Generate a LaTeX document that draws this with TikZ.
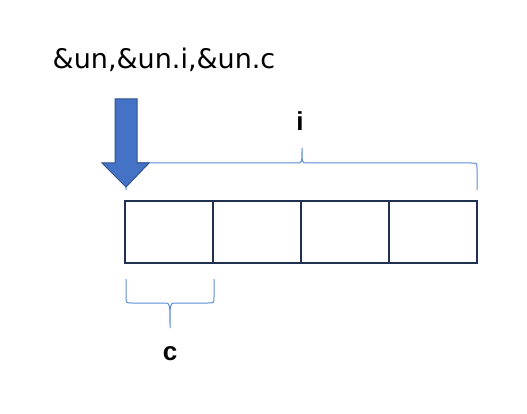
\documentclass[tikz,border=0pt]{standalone}
\usepackage{fontspec}
\setmainfont{Liberation Sans}
\newfontfamily\labelfont{DejaVu Sans}
\usepackage{xcolor}
\definecolor{cellLine}{HTML}{1F3050}
\definecolor{arrowFill}{HTML}{4472C4}
\definecolor{arrowLine}{HTML}{2F528F}
\definecolor{braceLine}{HTML}{5B8BD9}

\begin{document}
\begin{tikzpicture}[x=1pt, y=-1pt]
  \filldraw[fill=white, draw=none] (0,0) rectangle (527,414);
  \useasboundingbox (0,0) rectangle (527,414);
  \node[font=\labelfont\fontsize{27}{32}\selectfont] (addr) at (164,60) {\&un,\&un.i,\&un.c};
  \node[draw=cellLine, line width=2.5pt, minimum width=88pt, minimum height=62pt] (c1) at (169,232) {};
  \node[draw=cellLine, line width=2.5pt, minimum width=88pt, minimum height=62pt] (c2) at (257,232) {};
  \node[draw=cellLine, line width=2.5pt, minimum width=88pt, minimum height=62pt] (c3) at (345,232) {};
  \node[draw=cellLine, line width=2.5pt, minimum width=88pt, minimum height=62pt] (c4) at (433,232) {};
  \draw[braceLine, line width=1pt] (126,190) -- (126,169) .. controls (126,163) .. (132,163) -- (297,163)
    .. controls (302,163) .. (302,148) .. controls (302,163) .. (307,163) -- (471,163)
    .. controls (477,163) .. (477,169) -- (477,190);
  \draw[braceLine, line width=1pt] (126,279) -- (126,297) .. controls (126,303) .. (132,303) -- (165,303)
    .. controls (170,303) .. (170,328) .. controls (170,303) .. (175,303) -- (208,303)
    .. controls (214,303) .. (214,297) -- (214,279);
  \filldraw[fill=arrowFill, draw=arrowLine, line width=1pt] (115,99) -- (137,99) -- (137,163) -- (149,163)
    -- (126,187) -- (102,163) -- (115,163) -- cycle;
  \node[font=\bfseries\fontsize{26}{30}\selectfont] (iLabel) at (300,121) {i};
  \node[font=\bfseries\fontsize{26}{30}\selectfont] (cLabel) at (170,354) {c};
\end{tikzpicture}
\end{document}
